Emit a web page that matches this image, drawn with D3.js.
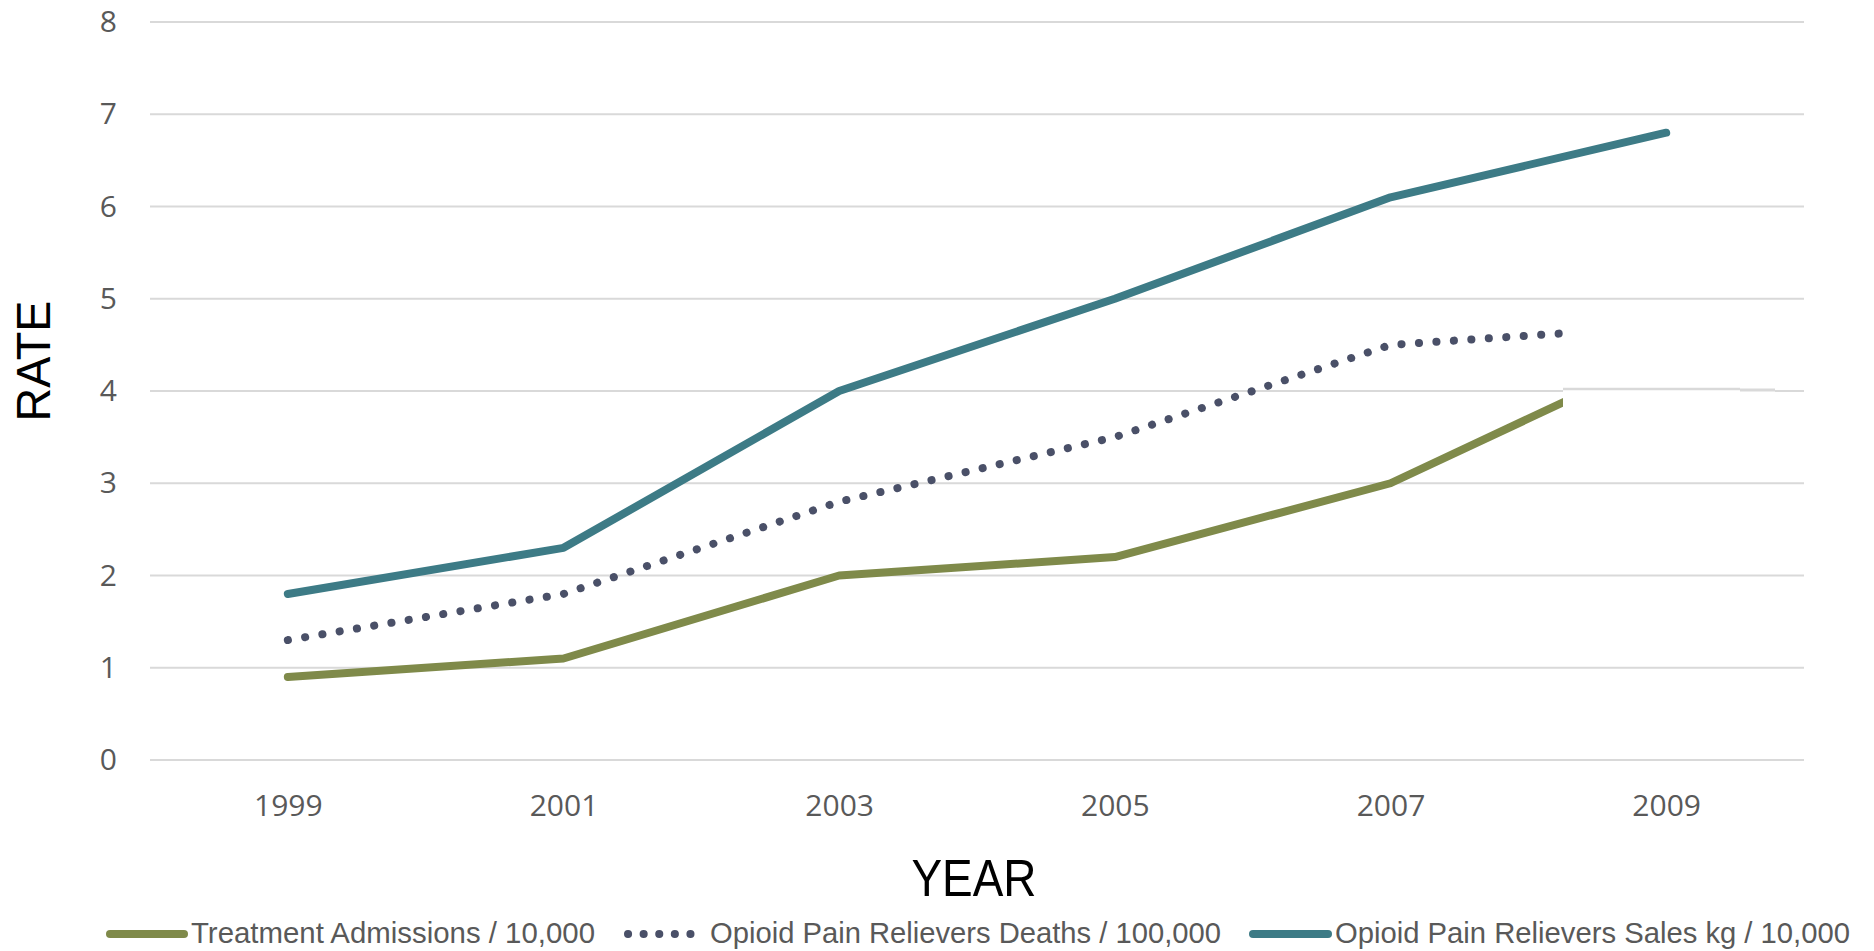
<!DOCTYPE html>
<html>
<head>
<meta charset="utf-8">
<script src="https://cdn.jsdelivr.net/npm/d3@7/dist/d3.min.js"></script>
<style>
  html, body { margin: 0; padding: 0; background: #ffffff; }
  svg { display: block; }
</style>
</head>
<body>
<svg id="chart" width="1874" height="951"></svg>
<script>
// Years on the category axis
const years = ["1999", "2001", "2003", "2005", "2007", "2009"];
// Series values (rates)
const treatmentAdmissions = [0.9, 1.1, 2.0, 2.2, 3.0, 4.4];
const painRelieverDeaths = [1.3, 1.8, 2.8, 3.5, 4.5, 4.7];
const painRelieverSales = [1.8, 2.3, 4.0, 5.0, 6.1, 6.8];
// Value-axis ticks
const yTicks = [0, 1, 2, 3, 4, 5, 6, 7, 8];

const seriesNames = [
  "Treatment Admissions / 10,000",
  "Opioid Pain Relievers Deaths / 100,000",
  "Opioid Pain Relievers Sales kg / 10,000"
];

const svg = d3.select("#chart");
const plot = { left: 150, right: 1804, top: 22, bottom: 760 };

const x = d3.scalePoint()
  .domain(years)
  .range([plot.left, plot.right])
  .padding(0.5);

const y = d3.scaleLinear()
  .domain([0, 8])
  .range([plot.bottom, plot.top]);

// Horizontal gridlines
svg.append("g")
  .selectAll("line")
  .data(yTicks)
  .join("line")
  .attr("x1", plot.left)
  .attr("x2", plot.right)
  .attr("y1", d => y(d))
  .attr("y2", d => y(d))
  .attr("stroke", "#d9d9d9")
  .attr("stroke-width", 2);

// Value-axis labels
const yAxis = d3.axisLeft(y).tickValues(yTicks).tickSize(0).tickPadding(0);
const yg = svg.append("g")
  .attr("transform", `translate(${plot.left - 33},0)`)
  .call(yAxis);
yg.select(".domain").remove();
yg.selectAll("text")
  .attr("font-family", "'Open Sans', sans-serif")
  .attr("font-size", 30)
  .attr("fill", "#595959");

// Category-axis labels
const xAxis = d3.axisBottom(x).tickSize(0).tickPadding(0);
const xg = svg.append("g")
  .attr("transform", `translate(0,${plot.bottom + 35})`)
  .call(xAxis);
xg.select(".domain").remove();
xg.selectAll("text")
  .attr("font-family", "'Open Sans', sans-serif")
  .attr("font-size", 30)
  .attr("fill", "#595959");

const line = d3.line()
  .x((d, i) => x(years[i]))
  .y(d => y(d));

const styles = [
  { data: treatmentAdmissions, color: "#7f8a4a", dash: null },
  { data: painRelieverDeaths, color: "#4a5068", dash: "0.1 17.4" },
  { data: painRelieverSales, color: "#3d7b86", dash: null }
];

styles.forEach(s => {
  svg.append("path")
    .datum(s.data)
    .attr("d", line)
    .attr("fill", "none")
    .attr("stroke", s.color)
    .attr("stroke-width", 8)
    .attr("stroke-linecap", "round")
    .attr("stroke-linejoin", "round")
    .attr("stroke-dasharray", s.dash);
});

// Blank patch over the right end of the lower series
svg.append("rect")
  .attr("x", 1563).attr("y", 312)
  .attr("width", 212).attr("height", 160)
  .attr("fill", "#ffffff");
svg.append("line")
  .attr("x1", 1563).attr("x2", 1740)
  .attr("y1", y(4) - 2).attr("y2", y(4) - 2)
  .attr("stroke", "#d9d9d9").attr("stroke-width", 2.5);
svg.append("line")
  .attr("x1", 1740).attr("x2", 1775)
  .attr("y1", y(4) - 1).attr("y2", y(4) - 1)
  .attr("stroke", "#d9d9d9").attr("stroke-width", 3);

// Axis titles
svg.append("text")
  .attr("x", 974).attr("y", 896)
  .attr("text-anchor", "middle")
  .attr("font-family", "'Liberation Sans', Arial, sans-serif")
  .attr("font-size", 52)
  .attr("textLength", 125)
  .attr("lengthAdjust", "spacingAndGlyphs")
  .attr("fill", "#000000")
  .text("YEAR");

svg.append("text")
  .attr("transform", "translate(50,361) rotate(-90)")
  .attr("text-anchor", "middle")
  .attr("font-family", "'Liberation Sans', Arial, sans-serif")
  .attr("font-size", 49)
  .attr("textLength", 121)
  .attr("lengthAdjust", "spacingAndGlyphs")
  .attr("fill", "#000000")
  .text("RATE");

// Legend
const legendItems = [
  { x0: 110, x1: 184, tx: 191, tw: 404 },
  { x0: 628, x1: 702, tx: 710, tw: 511 },
  { x0: 1253, x1: 1328, tx: 1335, tw: 515 }
];
const legendY = 934;
legendItems.forEach((it, i) => {
  svg.append("line")
    .attr("x1", it.x0).attr("x2", it.x1)
    .attr("y1", legendY).attr("y2", legendY)
    .attr("stroke", styles[i].color)
    .attr("stroke-width", 8)
    .attr("stroke-linecap", "round")
    .attr("stroke-dasharray", i === 1 ? "0.1 15.5" : null);
  svg.append("text")
    .attr("x", it.tx).attr("y", legendY + 9)
    .attr("font-family", "'Liberation Sans', Arial, sans-serif")
    .attr("font-size", 30)
    .attr("textLength", it.tw)
    .attr("lengthAdjust", "spacingAndGlyphs")
    .attr("fill", "#595959")
    .text(seriesNames[i]);
});
</script>
</body>
</html>
